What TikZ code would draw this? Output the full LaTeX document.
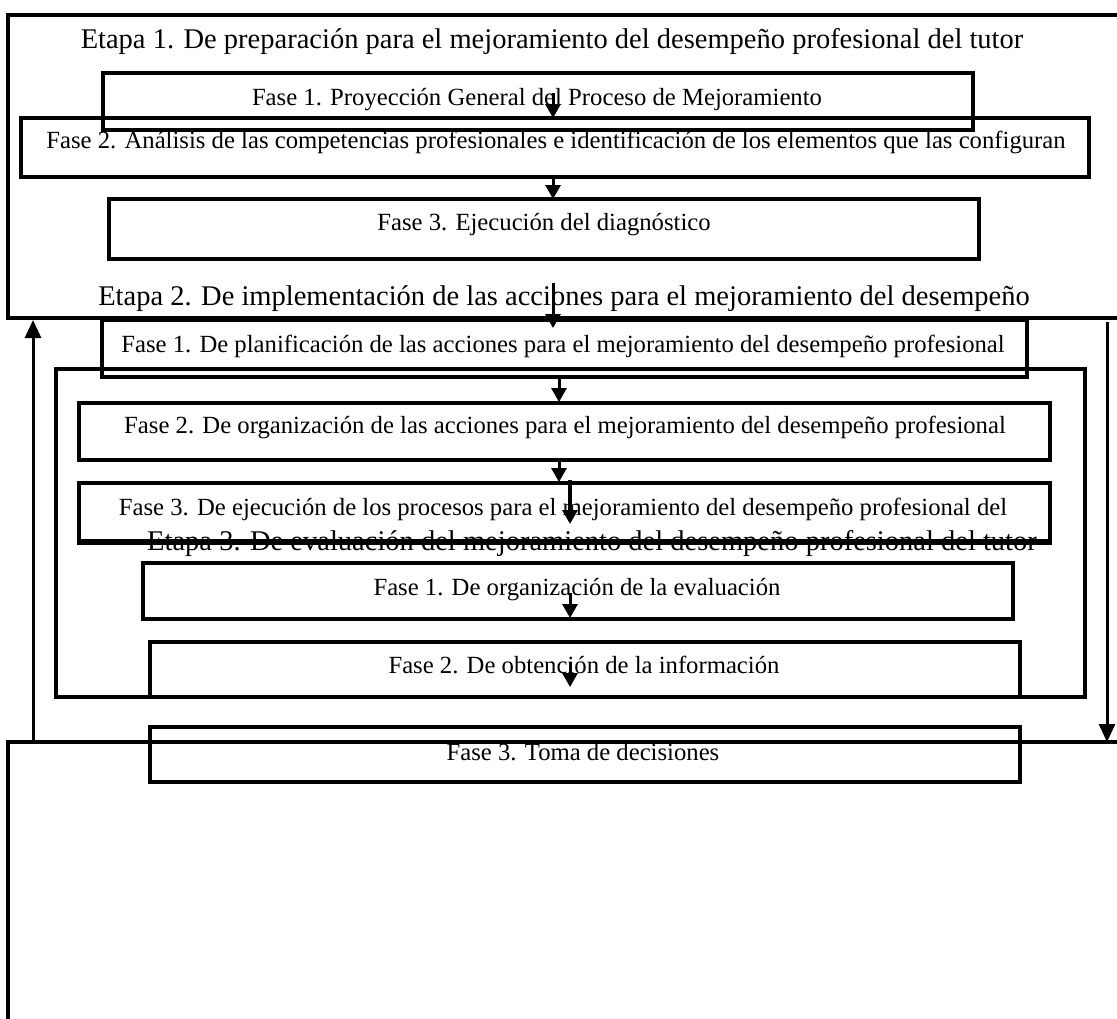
\documentclass[tikz,border=0pt]{standalone}
\usepackage{fontspec}
\setmainfont{Liberation Serif}
\usetikzlibrary{fit,arrows.meta}
\begin{document}
\begin{tikzpicture}[x=0.5pt,y=-0.5pt,
  fbox/.style={draw=black, line width=2pt, inner sep=0pt, rectangle},
  bigbox/.style={draw=black, line width=1.9pt, inner sep=0pt, rectangle},
  etext/.style={anchor=base, inner sep=0pt, font=\fontsize{14.25pt}{17pt}\selectfont},
  ftext/.style={anchor=base, inner sep=0pt, font=\fontsize{12.35pt}{15pt}\selectfont},
  arr/.style={draw=black, line width=1.5pt, -{Triangle[width=7.5pt,length=7pt]}},
  longarr/.style={draw=black, line width=1.5pt, -{Triangle[width=8pt,length=9pt]}}
]
\useasboundingbox (0,0) rectangle (1117,1018);
% big boxes
\node[bigbox, fit={(8,15) (1130,318)}] (etapa1) {};
\node[bigbox, fit={(56,369) (1085,697)}] (grupo) {};
\node[bigbox, line width=1.6pt, fit={(8,742) (1130,1040)}] (etapa3) {};
% etapa 1 phases
\node[fbox, fit={(103,73) (973,130)}] (e1f1) {};
\node[fbox, fit={(21,118) (1089,177)}] (e1f2) {};
\node[fbox, fit={(109,199) (979,259)}] (e1f3) {};
% etapa 2 phases
\node[fbox, fit={(102,320) (1027,377)}] (e2f1) {};
\node[fbox, fit={(79,403) (1050,460)}] (e2f2) {};
\node[fbox, fit={(79,483) (1050,541)}] (e2f3) {};
% etapa 3 phases
\node[fbox, fit={(143,563) (1013,619)}] (e3f1) {};
\node[fbox, fit={(150,642) (1020,697)}, line width=2.3pt] (e3f2) {};
\node[fbox, fit={(150,727) (1020,782)}] (e3f3) {};
% texts
\node[etext] (t-etapa1) at (552,48) {Etapa 1. De preparación para el mejoramiento del desempeño profesional del tutor};
\node[ftext] (t-e1f1) at (537,105) {Fase 1. Proyección General del Proceso de Mejoramiento};
\node[ftext] (t-e1f2) at (556,148) {Fase 2. Análisis de las competencias profesionales e identificación de los elementos que las configuran};
\node[ftext] (t-e1f3) at (544,230) {Fase 3. Ejecución del diagnóstico};
\node[etext] (t-etapa2) at (564,305) {Etapa 2. De implementación de las acciones para el mejoramiento del desempeño};
\node[ftext] (t-e2f1) at (563,352) {Fase 1. De planificación de las acciones para el mejoramiento del desempeño profesional};
\node[ftext] (t-e2f2) at (565,433) {Fase 2. De organización de las acciones para el mejoramiento del desempeño profesional};
\node[ftext] (t-e2f3) at (563,515) {Fase 3. De ejecución de los procesos para el mejoramiento del desempeño profesional del};
\node[etext] (t-etapa3) at (592,550) {Etapa 3. De evaluación del mejoramiento del desempeño profesional del tutor};
\node[ftext] (t-e3f1) at (577,595) {Fase 1. De organización de la evaluación};
\node[ftext] (t-e3f2) at (584,673) {Fase 2. De obtención de la información};
\node[ftext] (t-e3f3) at (583,760) {Fase 3. Toma de decisiones};
% redraw line over Etapa 3 title
\draw[line width=2pt] (e2f3.south west) -- (e2f3.south east);
% arrow end points
\coordinate (a1s) at (553,93);  \coordinate (a1e) at (553,118);
\coordinate (a2s) at (553,176); \coordinate (a2e) at (553,199);
\coordinate (a3s) at (553,283); \coordinate (a3e) at (553,328);
\coordinate (a4s) at (559,377); \coordinate (a4e) at (559,402);
\coordinate (a5s) at (559,459); \coordinate (a5e) at (559,482);
\coordinate (a6s) at (570,480); \coordinate (a6e) at (570,524);
\coordinate (a7s) at (570,593); \coordinate (a7e) at (570,618);
\coordinate (a8s) at (570,662); \coordinate (a8e) at (570,687);
\coordinate (rs) at (1107,322); \coordinate (re) at (1107,742);
\coordinate (ls) at (33,742);   \coordinate (le) at (33,320);
\draw[arr] (a1s) -- (a1e);
\draw[arr] (a2s) -- (a2e);
\draw[arr] (a3s) -- (a3e);
\draw[arr] (a4s) -- (a4e);
\draw[arr] (a5s) -- (a5e);
\draw[arr, line width=2pt] (a6s) -- (a6e);
\draw[arr] (a7s) -- (a7e);
\draw[arr] (a8s) -- (a8e);
\draw[longarr] (rs) -- (re);
\draw[longarr] (ls) -- (le);
\end{tikzpicture}
\end{document}
